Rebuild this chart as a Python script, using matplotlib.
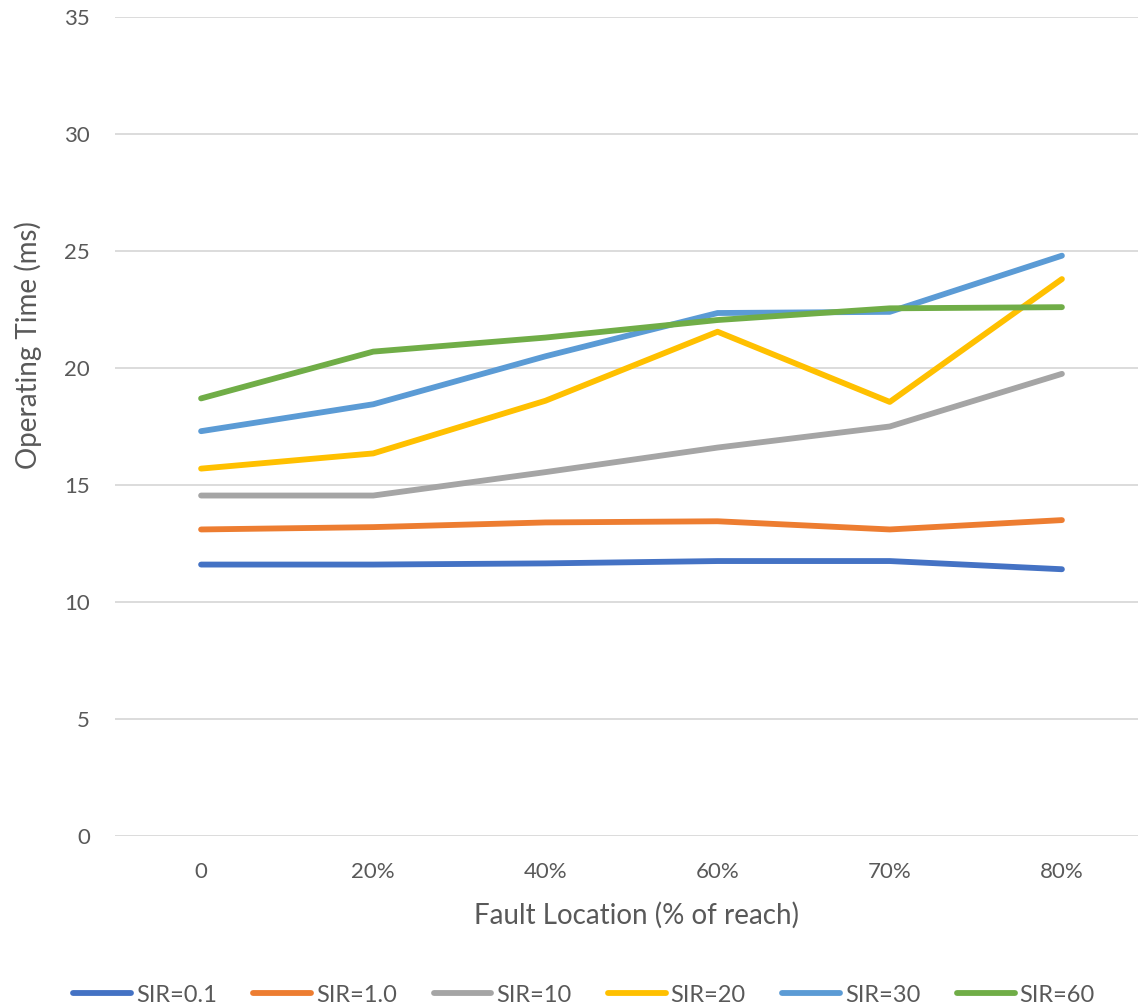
import matplotlib
matplotlib.use("Agg")
import matplotlib.pyplot as plt

plt.rcParams['font.family'] = ['Lato', 'DejaVu Sans']

# Fault locations along the protected line
locations = ["0", "20%", "40%", "60%", "70%", "80%"]

# Relay operating time (ms) for each source-to-impedance ratio
sir_0_1 = [11.6, 11.6, 11.65, 11.75, 11.75, 11.4]
sir_1_0 = [13.1, 13.2, 13.4, 13.45, 13.1, 13.5]
sir_10 = [14.55, 14.55, 15.55, 16.6, 17.5, 19.75]
sir_20 = [15.7, 16.35, 18.6, 21.55, 18.55, 23.8]
sir_30 = [17.3, 18.45, 20.5, 22.35, 22.4, 24.8]
sir_60 = [18.7, 20.7, 21.3, 22.05, 22.55, 22.6]

series_labels = ["SIR=0.1", "SIR=1.0", "SIR=10", "SIR=20", "SIR=30", "SIR=60"]
series_values = [sir_0_1, sir_1_0, sir_10, sir_20, sir_30, sir_60]
colors = ["#4472C4", "#ED7D31", "#A5A5A5", "#FFC000", "#5B9BD5", "#70AD47"]
text_color = '#595959'

W, H = 1138, 1006
fig = plt.figure(figsize=(W / 100, H / 100), dpi=100)
ax = fig.add_axes([115 / W, 170 / H, 1033 / W, 819 / H])

x = list(range(len(locations)))
for vals, lab, col in zip(series_values, series_labels, colors):
    ax.plot(x, vals, color=col, lw=4.2, label=lab, solid_capstyle='round',
            solid_joinstyle='round')

ax.set_xlim(-0.5, len(locations) - 0.5)
ax.set_ylim(0, 35)
ax.set_yticks(range(0, 36, 5))
ax.set_xticks(x)
ax.set_xticklabels(locations)

ax.grid(axis='y', color='#D9D9D9', lw=1.3)
ax.set_axisbelow(True)
for s in ax.spines.values():
    s.set_visible(False)
ax.tick_params(axis='both', length=0, labelsize=16, labelcolor=text_color)
ax.tick_params(axis='y', pad=18)
ax.tick_params(axis='x', pad=19)

fig.text(28 / W, 1 - 345 / H, "Operating Time (ms)", rotation=90,
         ha='center', va='center', fontsize=20, color=text_color)
fig.text(636 / W, 1 - 915 / H, "Fault Location (% of reach)",
         ha='center', va='center', fontsize=20, color=text_color)

fig.legend(loc='center', bbox_to_anchor=(584 / W, 1 - 995 / H), ncol=6,
           frameon=False, fontsize=17, labelcolor=text_color,
           handlelength=2.45, handletextpad=0.2, columnspacing=1.55)

fig.savefig("out.png", dpi=100, facecolor='white')
